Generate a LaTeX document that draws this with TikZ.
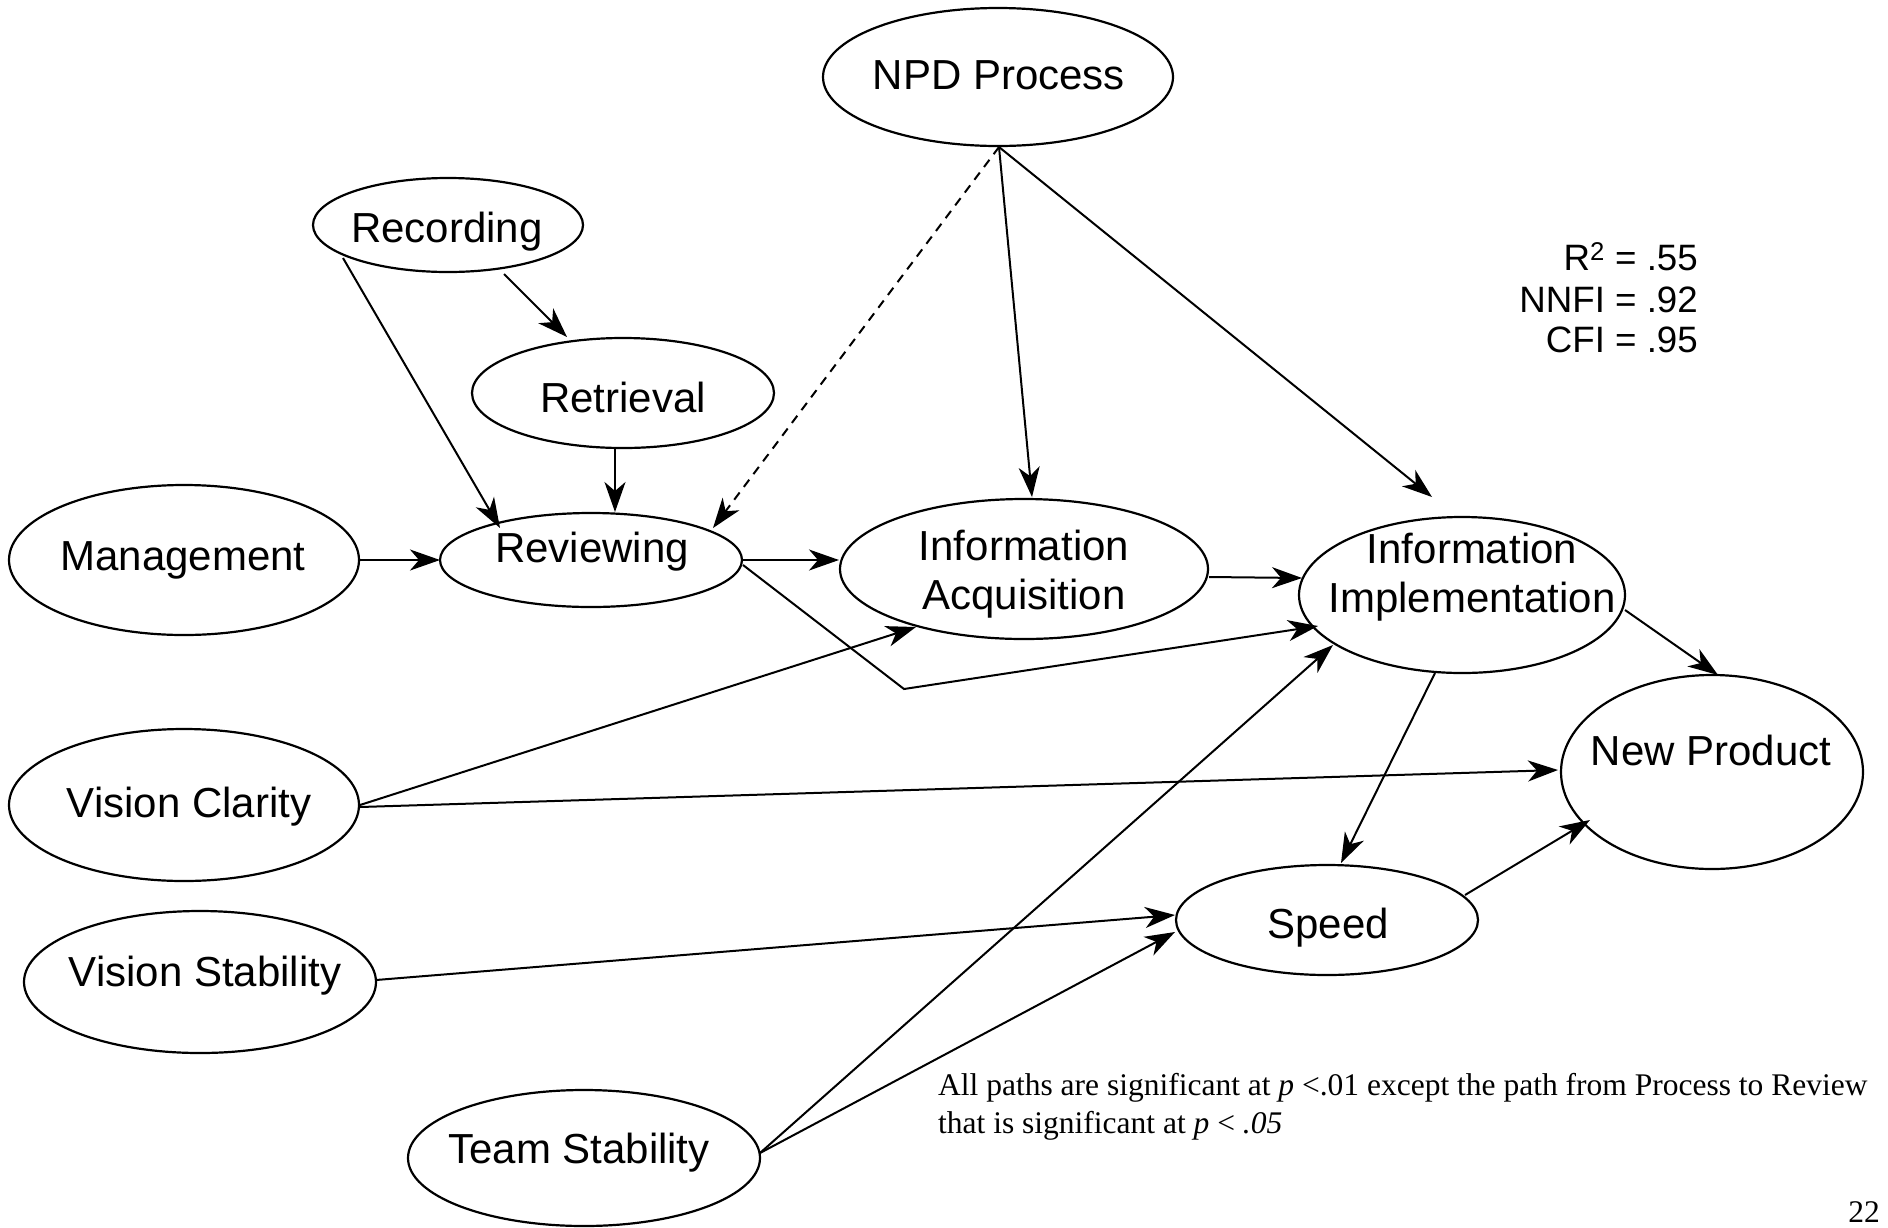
\documentclass[tikz,border=0pt]{standalone}
\usepackage{fontspec}
\setmainfont{Liberation Serif}
\newfontfamily\arialf{Liberation Sans}
\usetikzlibrary{arrows.meta,calc,shapes.geometric}
\begin{document}
\begin{tikzpicture}[x=1pt,y=-1pt,
  ell/.style={draw, ellipse, line width=2.2pt, inner sep=0pt},
  lbl/.style={font=\arialf\fontsize{42}{49}\selectfont, anchor=base, inner sep=0pt},
  fit/.style={font=\arialf\fontsize{36.7}{41}\selectfont, anchor=base east, inner sep=0pt},
  note/.style={font=\fontsize{31.5}{36}\selectfont, inner sep=0pt},
  arr/.style={-{Stealth[length=30pt,width=21pt,inset=9pt]}, line width=2pt},
  dsh/.style={arr, dash pattern=on 9pt off 7pt}]
\useasboundingbox (0,0) rectangle (1888,1227);
% ellipses
\node[ell, minimum width=350, minimum height=138] (npd) at (998,77) {};
\node[ell, minimum width=270, minimum height=94] (rec) at (448,225) {};
\node[ell, minimum width=302, minimum height=110] (ret) at (623,393) {};
\node[ell, minimum width=350, minimum height=150] (man) at (184,560) {};
\node[ell, minimum width=302, minimum height=94] (rev) at (591,560) {};
\node[ell, minimum width=368, minimum height=140] (acq) at (1024,569) {};
\node[ell, minimum width=326, minimum height=156] (impl) at (1462,595) {};
\node[ell, minimum width=302, minimum height=194] (np) at (1712,772) {};
\node[ell, minimum width=350, minimum height=152] (clar) at (184,805) {};
\node[ell, minimum width=302, minimum height=110] (speed) at (1327,920) {};
\node[ell, minimum width=352, minimum height=142] (stab) at (200,982) {};
\node[ell, minimum width=352, minimum height=136] (team) at (584,1158) {};
% labels
\node[lbl] (npdT) at (999,89) {NPD Process};
\node[lbl] (recT) at (447,242) {Recording};
\node[lbl] (retT) at (623,412) {Retrieval};
\node[lbl] (manT) at (183,570) {Management};
\node[lbl] (revT) at (592,562) {Reviewing};
\node[lbl] (acqT1) at (1024,560) {Information};
\node[lbl] (acqT2) at (1024,609) {Acquisition};
\node[lbl] (implT1) at (1472,563) {Information};
\node[lbl] (implT2) at (1472,612) {Implementation};
\node[lbl] (npT) at (1711,765) {New Product};
\node[lbl] (clarT) at (189,817) {Vision Clarity};
\node[lbl] (stabT) at (205,986) {Vision Stability};
\node[lbl] (speedT) at (1328,938) {Speed};
\node[lbl] (teamT) at (579,1163) {Team Stability};
% fit statistics
\node[fit] (fitA) at (1698,270) {R\textsuperscript{2} = .55};
\node[fit] (fitB) at (1698,312) {NNFI = .92};
\node[fit] (fitC) at (1698,352) {CFI = .95};
% note
\node[note, anchor=base west] (noteA) at (938,1095) {All paths are significant at \textit{p} <.01 except the path from Process to Review};
\node[note, anchor=base west] (noteB) at (938,1133) {that is significant at \textit{p} < \textit{.05}};
\node[note, anchor=base east] (page) at (1880,1222) {22};
% connectors
\coordinate (bend) at (904,689);
\draw[arr] ($(rec)+(-105,33)$) -- ($(rev)+(-91,-32)$);
\draw[arr] ($(rec)+(56,49)$) -- ($(ret)+(-56,-56)$);
\draw[arr] ($(ret)+(-8,55)$) -- ($(rev)+(24,-48)$);
\draw[dsh] ($(npd)+(1,70)$) -- ($(rev)+(122,-32)$);
\draw[arr] ($(npd)+(1,70)$) -- ($(acq)+(8,-72)$);
\draw[arr] ($(npd)+(1,70)$) -- ($(impl)+(-30,-98)$);
\draw[arr] ($(man)+(175,0)$) -- ($(rev)+(-151,0)$);
\draw[arr] ($(rev)+(152,0)$) -- ($(acq)+(-185,-9)$);
\draw[arr] ($(rev)+(152,5)$) -- (bend) -- ($(impl)+(-144,31)$);
\draw[arr] ($(acq)+(185,8)$) -- ($(impl)+(-160,-17)$);
\draw[arr] ($(clar)+(176,0)$) -- ($(acq)+(-108,58)$);
\draw[arr] ($(clar)+(176,2)$) -- ($(np)+(-154,-2)$);
\draw[arr] ($(team)+(176,-5)$) -- ($(impl)+(-129,50)$);
\draw[arr] ($(team)+(176,-5)$) -- ($(speed)+(-152,12)$);
\draw[arr] ($(stab)+(176,-2)$) -- ($(speed)+(-152,-5)$);
\draw[arr] ($(impl)+(-27,78)$) -- ($(speed)+(14,-57)$);
\draw[arr] ($(impl)+(163,15)$) -- ($(np)+(6,-97)$);
\draw[arr] ($(speed)+(138,-25)$) -- ($(np)+(-122,48)$);
\end{tikzpicture}
\end{document}
